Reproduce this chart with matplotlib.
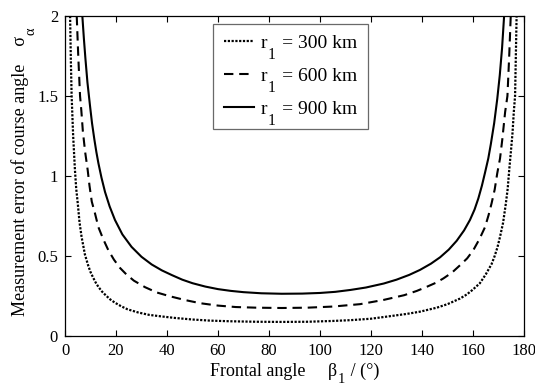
import matplotlib
matplotlib.use("Agg")
import matplotlib.pyplot as plt

plt.rcParams['font.family'] = ['Liberation Serif', 'DejaVu Serif']
plt.rcParams['mathtext.fontset'] = 'custom'
plt.rcParams['mathtext.rm'] = 'Liberation Serif'
plt.rcParams['mathtext.it'] = 'Liberation Serif:italic'

beta_300 = [2.0, 2.3, 2.6, 3.2, 3.9, 4.4, 5.0, 5.7, 6.5, 7.8, 9.1, 10.0, 11.0, 12.0, 13.1, 14.5,
            16.0, 17.7, 19.6, 22, 24.5, 28.7, 33, 38, 43, 50, 57, 65, 75, 85, 95, 105, 112, 120,
            128, 134, 139.2, 145.8, 150, 154.9, 157.5, 159.8, 162.7, 165, 167.3, 168.5, 169.6,
            170.6, 171.8, 172.9, 173.6, 174.2, 174.9, 175.5, 176.0, 176.5, 176.8, 177.1]
sigma_300 = [2.0, 1.72, 1.5, 1.25, 1.037, 0.92, 0.83, 0.71, 0.62, 0.51, 0.44, 0.4, 0.366, 0.335,
             0.307, 0.278, 0.254, 0.229, 0.208, 0.186, 0.167, 0.147, 0.132, 0.122, 0.113, 0.103,
             0.096, 0.092, 0.089, 0.088, 0.089, 0.094, 0.099, 0.108, 0.125, 0.138, 0.152, 0.177,
             0.199, 0.234, 0.259, 0.288, 0.33, 0.385, 0.45, 0.5, 0.555, 0.62, 0.708, 0.83, 0.92,
             1.037, 1.16, 1.27, 1.4, 1.5, 1.75, 2.0]

beta_600 = [4.6, 5.2, 5.9, 6.4, 7.0, 7.9, 8.9, 9.6, 10.5, 11.7, 13.1, 15.0, 17.0, 19.2, 21.6, 24,
            27, 31.4, 36, 41.2, 47, 53, 60, 67, 75, 85, 95, 105, 115.7, 124.8, 133, 138, 141.8,
            145.5, 148.4, 151.8, 154.9, 157.7, 160.1, 162.5, 164.7, 166.1, 167.3, 168.5, 169.5,
            170.6, 171.5, 172.6, 173.5, 174.2, 174.8]
sigma_600 = [2.0, 1.75, 1.5, 1.41, 1.28, 1.15, 1.037, 0.94, 0.84, 0.77, 0.68, 0.605, 0.536, 0.477,
             0.425, 0.386, 0.346, 0.305, 0.272, 0.248, 0.225, 0.205, 0.19, 0.181, 0.177, 0.175,
             0.177, 0.184, 0.199, 0.225, 0.255, 0.282, 0.307, 0.333, 0.36, 0.397, 0.442, 0.485,
             0.536, 0.605, 0.68, 0.755, 0.83, 0.915, 1.016, 1.11, 1.23, 1.4, 1.5, 1.75, 2.0]

beta_900 = [6.8, 7.4, 8.0, 8.8, 9.8, 10.6, 11.5, 12.3, 13.1, 14.3, 15.7, 17.5, 19.6, 22.5, 26.1,
            30, 34, 38, 42, 46, 50, 55, 60, 65, 70, 77, 85, 93, 100, 106, 112, 118, 125, 130,
            135, 139.2, 143.5, 147.1, 150.5, 153.6, 156.5, 158.8, 160.6, 162.1, 163.5, 164.7,
            166, 167, 168.3, 169.5, 170.5, 171.4, 172.2]
sigma_900 = [2.0, 1.86, 1.735, 1.585, 1.44, 1.33, 1.23, 1.15, 1.08, 0.99, 0.9, 0.81, 0.725, 0.635,
             0.557, 0.495, 0.447, 0.41, 0.38, 0.352, 0.33, 0.309, 0.293, 0.282, 0.274, 0.267,
             0.264, 0.265, 0.269, 0.276, 0.288, 0.303, 0.328, 0.352, 0.382, 0.413, 0.452, 0.492,
             0.54, 0.595, 0.66, 0.725, 0.79, 0.86, 0.94, 1.02, 1.11, 1.2, 1.33, 1.48, 1.63, 1.8,
             2.0]

radii = ['300', '600', '900']
xticks = [0, 20, 40, 60, 80, 100, 120, 140, 160, 180]
yticks = [0, 0.5, 1, 1.5, 2]
yticklabels = ['0', '0.5', '1', '1.5', '2']

W, H = 535, 385
fig = plt.figure(figsize=(W / 100, H / 100), dpi=100)
ax = fig.add_axes([65 / W, 1 - 336 / H, 459 / W, 320 / H])

ax.plot(beta_300, sigma_300, color='black', lw=1.6, linestyle=(0, (1, 0.7)),
        label='r   = ' + radii[0] + ' km')
ax.plot(beta_600, sigma_600, color='black', lw=1.5, linestyle=(0, (4.5, 2.8)),
        label='r   = ' + radii[1] + ' km')
ax.plot(beta_900, sigma_900, color='black', lw=1.5, linestyle='-',
        label='r   = ' + radii[2] + ' km')

ax.set_xlim(0, 180)
ax.set_ylim(0, 2)
ax.set_xticks(xticks)
ax.set_yticks(yticks)
ax.set_yticklabels(yticklabels)
ax.tick_params(direction='in', top=True, right=True, labelsize=12, length=4, width=0.8, pad=5)
for s in ax.spines.values():
    s.set_linewidth(0.9)

xl = ax.set_xlabel('Frontal angle     β   / (°)', fontsize=13, labelpad=3)
yl = ax.set_ylabel('Measurement error of course angle    σ', fontsize=13, labelpad=6)

leg = ax.legend(loc='upper left', bbox_to_anchor=(0.3224, 0.975), borderaxespad=0,
                fontsize=14, frameon=True, fancybox=False, edgecolor='#444444',
                handlelength=1.55, handletextpad=0.36, borderpad=0.55, labelspacing=0.78)
leg.get_frame().set_linewidth(0.9)

fig.canvas.draw()
renderer = fig.canvas.get_renderer()


def add_sub(text_obj, prefix, sub, scale=0.8, drop=0.55, rotated=False):
    prop = text_obj.get_fontproperties()
    fs = prop.get_size_in_points()
    fs_px = fs * fig.dpi / 72
    w_pre, _, _ = renderer.get_text_width_height_descent(prefix, prop, ismath=False)
    _, _, d = renderer.get_text_width_height_descent('lp', prop, ismath=False)
    bb = text_obj.get_window_extent(renderer)
    if not rotated:
        x = bb.x0 + w_pre + 0.03 * fs_px
        y = bb.y0 + d - drop * fs_px
        fig.text(x / W, y / H, sub, fontsize=fs * scale, ha='left', va='baseline')
    else:
        y = bb.y0 + w_pre + 0.03 * fs_px
        x = bb.x1 - d + drop * fs_px
        fig.text(x / W, y / H, sub, fontsize=fs * scale, ha='left', va='baseline',
                 rotation=90, rotation_mode='anchor')


for t in leg.get_texts():
    add_sub(t, 'r', '1')
add_sub(xl, 'Frontal angle     β', '1', drop=0.36)
add_sub(yl, 'Measurement error of course angle    σ', 'α', rotated=True)

fig.savefig('out.png', dpi=100)
